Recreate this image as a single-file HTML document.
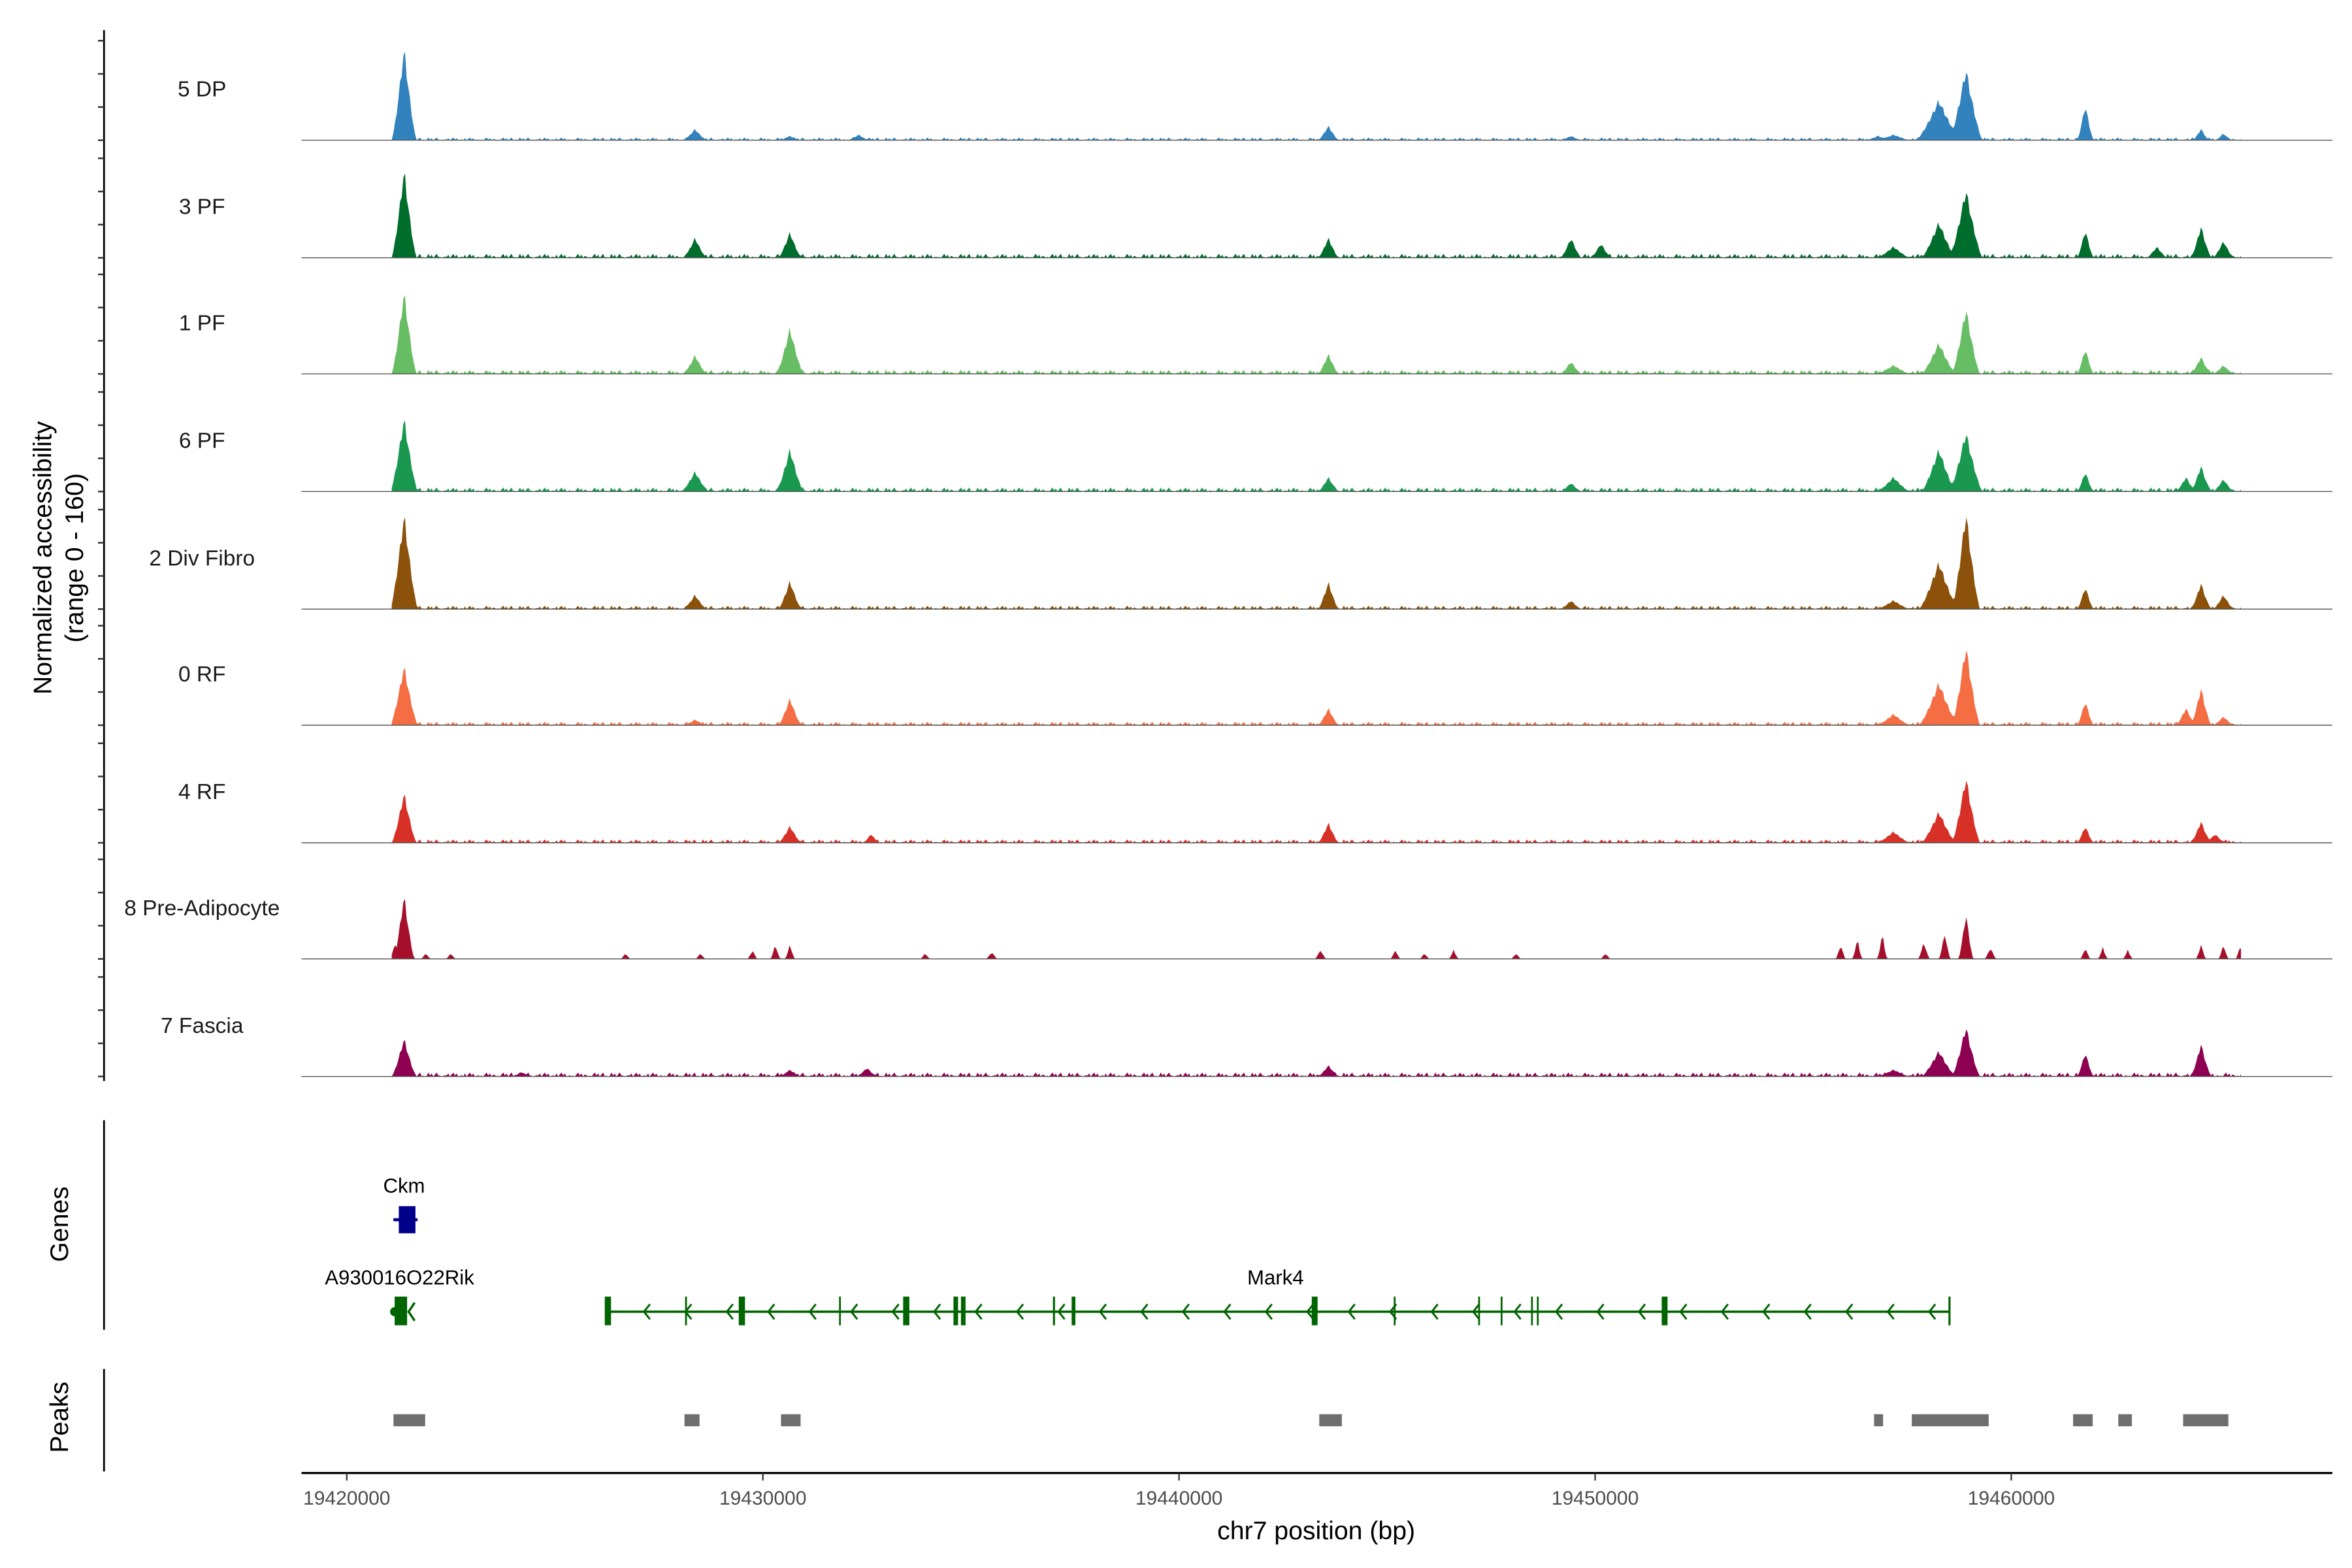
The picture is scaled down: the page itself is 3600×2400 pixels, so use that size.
<!DOCTYPE html>
<html><head><meta charset="utf-8"><style>html,body{margin:0;padding:0;background:#fff}svg{display:block}text{font-family:"Liberation Sans",sans-serif}</style></head>
<body>
<svg id="chart" xmlns="http://www.w3.org/2000/svg" width="3600" height="2400" viewBox="0 0 1560 1040">
<rect width="1560" height="1040" fill="#fff"/>
<g id="tracks"></g>
<line x1="69" y1="20" x2="69" y2="717" stroke="#000" stroke-width="1.2"/>
<g id="yticks"></g>
<text transform="translate(34,370) rotate(-90)" text-anchor="middle" font-size="17">Normalized accessibility</text>
<text transform="translate(55,370) rotate(-90)" text-anchor="middle" font-size="17">(range 0 - 160)</text>
<line x1="69" y1="743" x2="69" y2="882" stroke="#000" stroke-width="1.2"/>
<text transform="translate(45,812) rotate(-90)" text-anchor="middle" font-size="17">Genes</text>
<line x1="69" y1="908" x2="69" y2="976" stroke="#000" stroke-width="1.2"/>
<text transform="translate(45,940) rotate(-90)" text-anchor="middle" font-size="17">Peaks</text>
<g id="genes"></g>
<g id="peaks"></g>
<line x1="200" y1="977" x2="1547" y2="977" stroke="#000" stroke-width="1.4"/>
<g id="xticks"></g>
<text x="873" y="1021" text-anchor="middle" font-size="17">chr7 position (bp)</text>
</svg>
<script>
const trackNames = ["5 DP","3 PF","1 PF","6 PF","2 Div Fibro","0 RF","4 RF","8 Pre-Adipocyte","7 Fascia"];
const trackColors = ["#3182bd","#006d2c","#66bd63","#1a9850","#8c510a","#f46d43","#d73027","#a50f2c","#8e0152"];
// peaks per track: [position bp, height (0-160 units), half-width bp]
const peaks0 = [[1421377,148,300],[1428370,18,280],[1430650,7,250],[1432300,9,250],[1443590,23,250],[1449420,7,250],[1457170,9,400],[1458260,64,550],[1458910,114,400],[1461780,57,200],[1464560,18,200],[1465100,11,200],[1456800,7,300]];
const peaks1 = [[1421377,141,300],[1428370,32,280],[1430650,41,280],[1443590,32,250],[1449420,32,250],[1450140,23,250],[1457170,18,400],[1458260,57,420],[1458910,109,400],[1461780,45,200],[1464560,50,250],[1465100,27,250],[1463500,18,250]];
const peaks2 = [[1421377,132,300],[1428370,30,280],[1430650,73,330],[1443590,32,250],[1449420,20,250],[1457170,14,400],[1458260,50,420],[1458910,105,340],[1461780,41,200],[1464560,27,250],[1465100,14,250]];
const peaks3 = [[1421377,118,330],[1428370,32,330],[1430650,68,330],[1443590,23,250],[1449420,14,250],[1457170,23,400],[1458260,68,420],[1458910,95,400],[1461780,32,200],[1464560,41,250],[1464200,23,250],[1465100,20,250]];
const peaks4 = [[1421377,152,330],[1428370,23,280],[1430650,45,280],[1443590,43,250],[1449420,14,250],[1457170,14,400],[1458260,75,480],[1458910,155,340],[1461780,36,200],[1464560,41,250],[1465100,23,250]];
const peaks5 = [[1421377,95,330],[1428370,9,280],[1430650,43,280],[1443590,27,250],[1457170,18,400],[1458260,68,480],[1458910,127,340],[1461780,39,200],[1464560,59,250],[1464200,27,250],[1465100,14,250]];
const peaks6 = [[1421377,80,300],[1430650,27,280],[1432600,14,200],[1443590,32,250],[1457170,18,400],[1458260,50,420],[1458910,105,340],[1461780,27,200],[1464560,34,250],[1464900,14,250]];
const peaks7 = [[1421377,102,250],[1421150,23,120],[1421900,9,120],[1422500,9,120],[1426700,9,120],[1428500,9,120],[1429750,14,120],[1430300,23,120],[1430650,23,120],[1433900,9,120],[1435500,11,140],[1443400,14,140],[1445200,14,120],[1445900,9,120],[1446600,14,120],[1448100,9,120],[1450250,9,120],[1455900,23,120],[1456300,32,120],[1456900,41,120],[1457900,27,140],[1458400,41,140],[1458910,73,180],[1459500,18,140],[1461780,18,120],[1462200,18,120],[1462800,14,120],[1464560,23,120],[1465100,23,120],[1465500,23,100]];
const peaks8 = [[1421377,61,300],[1424200,7,250],[1430650,11,250],[1432500,14,250],[1443590,18,250],[1457170,11,400],[1458260,41,420],[1458910,80,340],[1461780,39,200],[1464560,52,250]];
const trackPeaks = [peaks0,peaks1,peaks2,peaks3,peaks4,peaks5,peaks6,peaks7,peaks8];
// background noise levels per track (units)
const noiseLevel = [4,6,6,6,5,5,5,0,6];
const xTicks = [19420000,19430000,19440000,19450000,19460000];
const geneMark4Exons = [[1426200,1426350],[1428130,1428175],[1429420,1429570],[1431830,1431870],[1433370,1433520],[1434580,1434690],[1434760,1434870],[1436970,1437020],[1437420,1437510],[1443190,1443330],[1445160,1445200],[1447190,1447230],[1447730,1447770],[1448460,1448500],[1448600,1448640],[1451600,1451740],[1458490,1458540]];
const peakRegions = [[1421123,1421884],[1428116,1428478],[1430435,1430906],[1443370,1443913],[1456703,1456920],[1457609,1459457],[1461486,1461957],[1462572,1462899],[1464130,1465217]];

const NS="http://www.w3.org/2000/svg";
const OFF=18000000;
function xs(bp){ if(bp>19000000) bp-=OFF; return 230+(bp-1420000)*0.0276; }
const baselines=[93,171,248,326,404,481,559,636,714];
const ppu=70.4/160;
function mk(tag,attrs,parent){const e=document.createElementNS(NS,tag);for(const k in attrs)e.setAttribute(k,attrs[k]);parent.appendChild(e);return e;}
const tracksG=document.getElementById('tracks');
const yt=document.getElementById('yticks');
const start=1421080,end=1465520,step=40;
trackNames.forEach((name,i)=>{
  const b=baselines[i];
  const g=mk('g',{},tracksG);
  
  
  let d='M'+xs(start).toFixed(2)+','+b;
  let k=0;
  for(let p=start;p<=end;p+=step,k++){
    let v=0;
    for(const [c,h,w] of trackPeaks[i]){const t=1-Math.abs(p-c)/w; if(t>0) v=Math.max(v,h*Math.pow(t,1.3)*(0.85+0.15*((k%3)/2)));}
    const nl=noiseLevel[i]*(((k*7)%5)/4)*((k%11)<7?1:0.3);
    v=Math.max(v,nl);
    d+=' L'+xs(p).toFixed(2)+','+(b-v*ppu).toFixed(2);
  }
  d+=' L'+xs(end).toFixed(2)+','+b+' Z';
  const path=mk('path',{d:d,fill:trackColors[i]},g);
  
  
  const ln=mk('line',{x1:200,y1:b,x2:1547,y2:b,stroke:'#555','stroke-width':0.6},g);
  
  
  const lab=mk('text',{x:134,y:b-29,'text-anchor':'middle','font-size':14.5,fill:'#1a1a1a'},g);
  lab.textContent=name;
  
  
  for(let j=0;j<4;j++){
    const t=mk('line',{x1:65,x2:69,y1:b-j*50*ppu,y2:b-j*50*ppu,stroke:'#333','stroke-width':1.1},yt);
    
    
  }
});
// x ticks
const xt=document.getElementById('xticks');
xTicks.forEach(v=>{
  const x=xs(v);
  const t=mk('line',{x1:x,x2:x,y1:977,y2:982,stroke:'#333','stroke-width':1},xt);
  
  
  const l=mk('text',{x:x,y:998,'text-anchor':'middle','font-size':13,fill:'#4d4d4d'},xt);
  l.textContent=String(v);
  
  
});
// genes
const gg=document.getElementById('genes');
const ck=mk('g',{},gg);


const ckt=mk('text',{x:268,y:791,'text-anchor':'middle','font-size':13.5,fill:'#000'},ck);ckt.textContent='Ckm';


mk('line',{x1:xs(1421120),x2:xs(1421700),y1:809,y2:809,stroke:'#00008b','stroke-width':2},ck);
mk('rect',{x:xs(1421250),y:800,width:xs(1421650)-xs(1421250),height:18,fill:'#00008b'},ck);
const ak=mk('g',{},gg);


const akt=mk('text',{x:265,y:852,'text-anchor':'middle','font-size':13.5,fill:'#000'},ak);akt.textContent='A930016O22Rik';


mk('rect',{x:xs(1421150),y:860,width:xs(1421450)-xs(1421150),height:19,fill:'#006400'},ak);
mk('path',{d:'M'+(xs(1421450)+5)+',864 L'+(xs(1421450)+1)+',870 L'+(xs(1421450)+5)+',876',fill:'none',stroke:'#006400','stroke-width':1.5},ak);
mk('circle',{cx:xs(1421150),cy:870,r:3,fill:'#006400'},ak);
const mg=mk('g',{},gg);


const mt=mk('text',{x:846,y:852,'text-anchor':'middle','font-size':13.5,fill:'#000'},mg);mt.textContent='Mark4';


const m0=xs(geneMark4Exons[0][0]), m1=xs(geneMark4Exons[geneMark4Exons.length-1][1]);
mk('line',{x1:m0,x2:m1,y1:870,y2:870,stroke:'#006400','stroke-width':1.6},mg);
for(let x=m0+27;x<m1-10;x+=27.5){
  mk('path',{d:'M'+(x+3)+',865 L'+(x-1)+',870 L'+(x+3)+',875',fill:'none',stroke:'#006400','stroke-width':1.3},mg);
}
geneMark4Exons.forEach(([a,b])=>{
  const r=mk('rect',{x:xs(a),y:860,width:Math.max(1.2,xs(b)-xs(a)),height:19,fill:'#006400'},mg);
  
  
});
// peaks
const pg=document.getElementById('peaks');
peakRegions.forEach(([a,b])=>{
  const r=mk('rect',{x:xs(a),y:938,width:xs(b)-xs(a),height:8,fill:'#6e6e6e'},pg);
  
  
});
</script>
</body></html>
